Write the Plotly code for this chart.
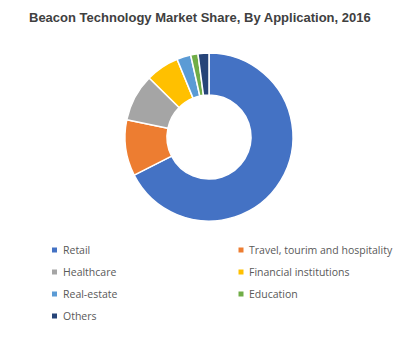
import plotly.graph_objects as go

# Market share by application (%)
applications = ["Retail", "Travel, tourim and hospitality", "Healthcare",
                "Financial institutions", "Real-estate", "Education", "Others"]
shares = [67.5, 10.8, 9.1, 6.4, 2.7, 1.4, 2.1]
colors = ["#4472C4", "#ED7D31", "#A5A5A5", "#FFC000", "#5B9BD5", "#70AD47", "#264478"]

W, H = 405, 340
cx, cy, R = 209, 137, 84  # donut centre and radius in pixels

fig = go.Figure()
fig.add_trace(go.Pie(
    labels=applications,
    values=shares,
    hole=0.5,
    sort=False,
    direction="clockwise",
    rotation=0,
    textinfo="none",
    marker=dict(colors=colors, line=dict(color="white", width=1.5)),
    showlegend=False,
    domain=dict(x=[(cx - R) / W, (cx + R) / W],
                y=[(H - cy - R) / H, (H - cy + R) / H]),
))

# Two-column legend drawn below the donut
col_x = [54.5, 241]
row_y = [250, 272, 294, 316]
shapes, annotations = [], []
for i, (name, col) in enumerate(zip(applications, colors)):
    x = col_x[i % 2]
    y = row_y[i // 2]
    shapes.append(dict(type="rect", xref="paper", yref="paper",
                       x0=(x - 2.5) / W, x1=(x + 2.5) / W,
                       y0=(H - y - 2.5) / H, y1=(H - y + 2.5) / H,
                       fillcolor=col, line=dict(width=0)))
    annotations.append(dict(text=name, xref="paper", yref="paper",
                            x=(x + 6) / W, y=(H - y) / H,
                            xanchor="left", yanchor="middle", showarrow=False,
                            font=dict(family="Open Sans", size=10.5, color="#595959")))

annotations.append(dict(text="<b>Beacon Technology Market Share, By Application, 2016</b>",
                        xref="paper", yref="paper", x=200 / W, y=(H - 17) / H,
                        xanchor="center", yanchor="middle", showarrow=False,
                        font=dict(family="Liberation Sans", size=13, color="#404040")))

fig.update_layout(
    width=W, height=H,
    margin=dict(l=0, r=0, t=0, b=0),
    paper_bgcolor="white",
    plot_bgcolor="white",
    shapes=shapes,
    annotations=annotations,
)

fig.write_html("out.html")
